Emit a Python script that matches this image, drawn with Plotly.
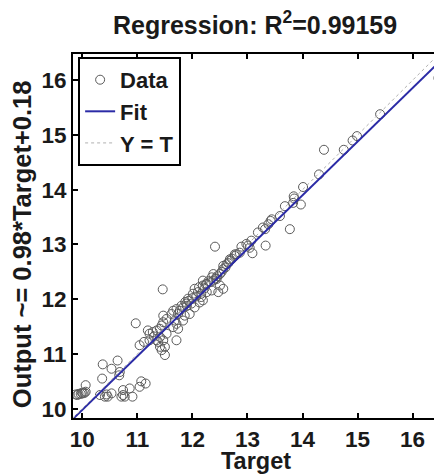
import plotly.graph_objects as go

# Data (Target, Output)
target = [
    9.88, 9.91, 9.93, 9.97, 9.99, 10.01, 10.04, 10.06, 10.06,
    10.37, 10.36, 10.53, 10.64, 10.67, 10.68,
    10.32, 10.41, 10.44, 10.46, 10.53, 10.71, 10.74, 10.77, 10.74, 10.86, 10.91, 11.04, 11.07, 11.15,
    10.97,
    11.04, 11.22, 11.28, 11.35, 11.41, 11.44, 11.47, 11.53, 11.47, 11.53, 11.41, 11.38, 11.41, 11.44, 11.50,
    11.71, 11.65, 11.68, 11.74, 11.77, 11.83, 11.89, 11.95, 12.04, 12.13, 12.19,
    11.46,
    11.19, 11.22, 11.35, 11.47, 11.50, 11.12, 11.30,
    11.62, 11.65, 11.71, 11.92, 11.98, 12.01, 12.04, 12.16, 12.19, 12.26, 12.32, 12.38, 12.44, 12.50,
    12.56, 12.62, 12.68, 12.77, 12.86, 12.50, 12.56, 12.47, 12.35, 12.26, 11.71, 11.74, 11.83, 11.86,
    12.41,
    12.89, 12.98, 13.07, 13.04, 13.09, 13.19, 13.32, 13.33, 13.38, 13.44, 13.59, 13.68, 13.77, 13.83, 13.97,
    12.68, 12.80, 12.56, 12.38, 12.19, 12.16,
    14.39, 14.30, 14.01, 13.84, 13.85, 13.28, 13.42, 12.77, 13.01,
    14.75, 14.91, 14.99, 15.41, 16.47,
    11.80, 11.87, 11.93, 12.07, 12.10, 12.22, 12.29, 12.35, 12.42, 12.45, 12.53, 12.60, 12.65, 12.72,
    11.90, 12.00, 12.12, 12.24,
]
output = [
    10.26, 10.25, 10.27, 10.27, 10.29, 10.28, 10.29, 10.31, 10.43,
    10.81, 10.55, 10.73, 10.88, 10.61, 10.67,
    10.25, 10.22, 10.26, 10.22, 10.28, 10.22, 10.34, 10.22, 10.25, 10.37, 10.22, 10.40, 10.50, 10.46,
    11.56,
    11.16, 11.25, 11.40, 11.43, 11.46, 11.52, 11.58, 11.64, 11.70, 11.37, 11.31, 11.22, 11.13, 11.07, 10.98,
    11.25, 11.49, 11.61, 11.73, 11.79, 11.85, 11.92, 11.73, 11.85, 11.94, 11.98,
    12.18,
    11.43, 11.37, 11.25, 11.25, 11.13, 11.22, 11.32,
    11.73, 11.79, 11.82, 12.01, 11.92, 12.10, 12.19, 12.10, 12.25, 12.28, 12.31, 12.34, 12.37, 12.46,
    12.55, 12.64, 12.70, 12.79, 12.85, 12.25, 12.19, 12.13, 12.16, 12.13, 11.55, 11.46, 11.61, 11.70,
    12.96,
    12.96, 13.01, 13.07, 12.94, 12.84, 13.22, 13.28, 12.98, 13.37, 13.46, 13.52, 13.70, 13.28, 13.76, 13.73,
    12.73, 12.82, 12.61, 12.46, 12.34, 12.04,
    14.73, 14.28, 14.05, 13.88, 13.84, 13.31, 13.43, 12.82, 12.98,
    14.73, 14.90, 14.98, 15.38, 16.04,
    11.88, 11.95, 11.97, 12.05, 12.13, 12.20, 12.33, 12.40, 12.38, 12.42, 12.50, 12.58, 12.66, 12.74,
    11.88, 12.02, 12.22, 12.27,
]

axis_min = 9.83
axis_max = 16.48
fit_slope = 0.98
fit_offset = 0.18
r_squared = "0.99159"
tick_vals = [10, 11, 12, 13, 14, 15, 16]
x_title = "Target"
y_title = "Output ~= 0.98*Target+0.18"

line_x = [axis_min, axis_max]
fit_y = [fit_slope * v + fit_offset for v in line_x]

FONT = "Liberation Sans, Arial, sans-serif"
TXT = "#1a1a1a"

fig = go.Figure()
fig.add_trace(go.Scatter(
    x=target, y=output, mode="markers", name="Data",
    marker=dict(symbol="circle-open", size=9, color="#5a5a5a", line=dict(width=1, color="#5a5a5a")),
))
fig.add_trace(go.Scatter(
    x=line_x, y=fit_y, mode="lines", name="Fit",
    line=dict(color="#2b2ba6", width=2),
))
fig.add_trace(go.Scatter(
    x=line_x, y=line_x, mode="lines", name="Y = T",
    line=dict(color="#b0b0b0", width=1, dash="dot"),
))

axis_common = dict(
    range=[axis_min, axis_max],
    tickvals=tick_vals,
    ticks="inside", ticklen=5, tickwidth=1.5, tickcolor="black",
    showline=True, linecolor="black", linewidth=2, mirror="ticks",
    showgrid=False, zeroline=False, automargin=False,
    tickfont=dict(family=FONT, size=22.5, color=TXT, weight="bold"),
)

# The page body has an 8px default margin; margins are shifted to compensate.
fig.update_layout(
    width=442, height=474,
    margin=dict(l=65, r=11, t=46, b=64),
    paper_bgcolor="white", plot_bgcolor="white",
    title=dict(
        text="Regression: R<sup>2</sup>=" + r_squared,
        x=0.559, xanchor="center", y=0.964, yanchor="middle",
        font=dict(family=FONT, size=25, color=TXT, weight="bold"),
    ),
    xaxis=dict(**axis_common),
    yaxis=dict(**axis_common),
    legend=dict(
        x=0.014, y=0.992, xanchor="left", yanchor="top",
        bgcolor="white", bordercolor="black", borderwidth=2,
        font=dict(family=FONT, size=22, color=TXT, weight="bold"),
        itemwidth=30, tracegroupgap=0,
    ),
    showlegend=True,
    annotations=[
        dict(
            text=y_title, textangle=-90,
            xref="paper", yref="paper", x=-0.139, y=0.478,
            xanchor="center", yanchor="middle", showarrow=False,
            font=dict(family=FONT, size=25.5, color=TXT, weight="bold"),
        ),
        dict(
            text=x_title,
            xref="paper", yref="paper", x=0.5, y=-0.118,
            xanchor="center", yanchor="middle", showarrow=False,
            font=dict(family=FONT, size=23.5, color=TXT, weight="bold"),
        ),
    ],
)

fig.write_html("out.html")
